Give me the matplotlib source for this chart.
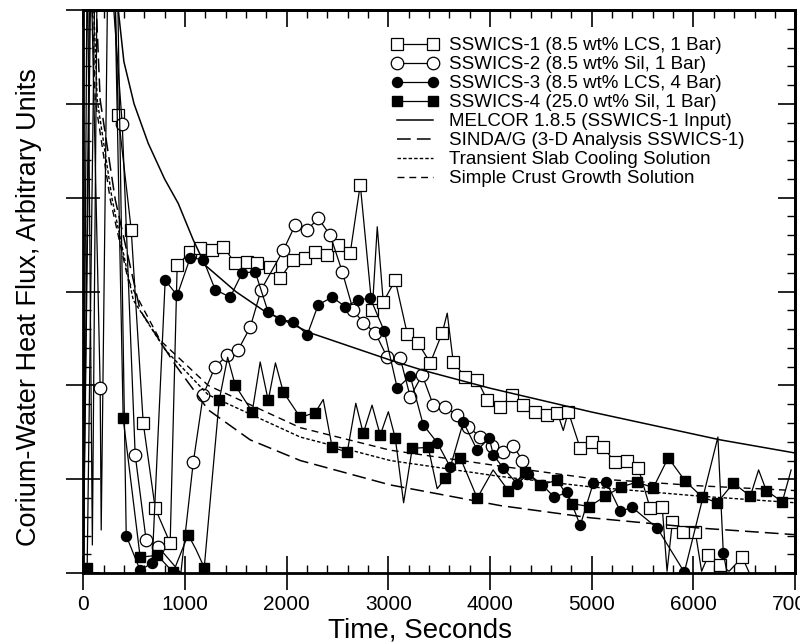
import matplotlib
matplotlib.use('Agg')
import matplotlib.pyplot as plt
from matplotlib.ticker import MultipleLocator, NullFormatter

plt.rcParams['font.family'] = ['Liberation Sans', 'DejaVu Sans']

# ---- measured data (time in s, heat flux in arbitrary units) ---------------
s1_time = [0, 40, 90, 140, 300, 344, 472, 590, 708, 855, 924, 1052, 1150, 1268,
           1377, 1495, 1613, 1711, 1839, 1937, 2065, 2183, 2281, 2399, 2507,
           2625, 2724, 2842, 2891, 2950, 3068, 3186, 3294, 3412, 3530, 3579,
           3638, 3756, 3874, 3973, 4100, 4218, 4327, 4445, 4563, 4661, 4720,
           4769, 4887, 5005, 5113, 5231, 5349, 5457, 5575, 5693, 5740, 5792,
           5900, 6018, 6080, 6146, 6264, 6350, 6480, 6550]
s1_flux = [0.05, 6.8, 0.3, 6.8, 6.8, 4.88, 3.66, 1.60, 0.69, 0.32, 3.28, 3.42,
           3.46, 3.44, 3.48, 3.30, 3.32, 3.30, 3.26, 3.14, 3.34, 3.36, 3.42,
           3.39, 3.50, 3.41, 4.14, 2.80, 3.69, 2.89, 3.12, 2.55, 2.45, 2.24,
           2.56, 2.77, 2.25, 2.09, 2.06, 1.84, 1.77, 1.90, 1.79, 1.72, 1.68,
           1.71, 1.52, 1.72, 1.33, 1.40, 1.34, 1.18, 1.20, 1.12, 0.69, 0.70,
           0.02, 0.54, 0.44, 0.44, 0.02, 0.19, 0.09, 0.02, 0.17, 0.0]
s1_plain = [0, 1, 2, 3, 4, 28, 35, 46, 56, 60, 63, 65]

s2_time = [0, 70, 167, 177, 246, 384, 511, 619, 737, 960, 1082, 1180, 1298,
           1416, 1524, 1642, 1750, 1967, 2085, 2203, 2311, 2429, 2547, 2655,
           2753, 2871, 2989, 3117, 3215, 3333, 3442, 3560, 3678, 3786, 3904,
           4022, 4130, 4228, 4317]
s2_flux = [0.0, 6.8, 1.97, 0.46, 6.8, 4.78, 1.26, 0.35, 0.28, 0.0, 1.18, 1.90,
           2.20, 2.32, 2.38, 2.62, 3.02, 3.44, 3.71, 3.66, 3.78, 3.60, 3.21,
           2.80, 2.67, 2.56, 2.30, 2.29, 1.88, 2.11, 1.79, 1.77, 1.68, 1.56,
           1.45, 1.36, 1.29, 1.36, 1.20]
s2_plain = [0, 1, 3, 4, 9]

s3_time = [0, 80, 330, 423, 560, 678, 806, 924, 1052, 1180, 1298, 1445, 1563,
           1691, 1819, 1937, 2065, 2203, 2311, 2448, 2576, 2704, 2822, 2960,
           3088, 3215, 3343, 3481, 3609, 3737, 3874, 3992, 4032, 4130, 4268,
           4376, 4513, 4631, 4759, 4887, 5015, 5143, 5280, 5398, 5644, 5910,
           6240, 6293, 6330]
s3_flux = [0.0, 6.8, 6.8, 0.40, 0.03, 0.11, 3.12, 2.96, 3.36, 3.34, 3.02, 2.94,
           3.20, 3.21, 2.78, 2.70, 2.68, 2.54, 2.86, 2.94, 2.84, 2.91, 2.93,
           2.58, 1.97, 2.10, 1.58, 1.39, 1.13, 1.61, 1.31, 1.44, 1.26, 1.12,
           0.95, 1.06, 0.94, 0.81, 0.86, 0.51, 0.96, 0.97, 0.66, 0.70, 0.48,
           0.01, 1.45, 0.22, 0.0]
s3_plain = [0, 1, 2, 46, 48]

s4_time = [39, 120, 300, 393, 560, 728, 885, 1032, 1110, 1190, 1337, 1420, 1495,
           1662, 1740, 1819, 1890, 1967, 2134, 2281, 2360, 2448, 2596, 2680,
           2753, 2840, 2920, 3000, 3068, 3150, 3235, 3392, 3480, 3560, 3707,
           3874, 4030, 4179, 4346, 4494, 4661, 4808, 4976, 5133, 5290, 5447,
           5605, 5752, 5919, 6087, 6234, 6392, 6559, 6640, 6716, 6873, 6960]
s4_flux = [0.06, 6.8, 6.8, 1.65, 0.17, 0.19, 0.01, 0.41, 0.25, 0.06, 1.84, 2.30,
           2.00, 1.72, 2.25, 1.84, 2.24, 1.93, 1.66, 1.71, 1.85, 1.34, 1.29,
           1.81, 1.49, 1.79, 1.47, 1.72, 1.44, 0.75, 1.33, 1.34, 0.90, 1.01,
           1.23, 0.80, 1.10, 0.88, 1.08, 0.94, 0.99, 0.74, 0.71, 0.82, 0.92,
           0.97, 0.91, 1.23, 0.98, 0.81, 0.75, 0.96, 0.82, 1.10, 0.88, 0.76,
           1.10]
s4_plain = [1, 2, 8, 11, 14, 16, 20, 23, 25, 27, 29, 32, 36, 53, 56]

# ---- model curves -----------------------------------------------------------
melcor_time = [250, 345, 400, 500, 639, 800, 934, 1082, 1200, 1500, 1770, 2232,
               3019, 3343, 4002, 4985, 6264, 7000]
melcor_flux = [6.8, 6.0, 5.45, 5.0, 4.58, 4.2, 3.94, 3.55, 3.28, 3.0, 2.80,
               2.56, 2.27, 2.16, 1.97, 1.72, 1.42, 1.28]

crust_time = [60, 118, 266, 443, 757, 1229, 2134, 3019, 4100, 4985, 6067, 7000]
crust_flux = [7.0, 5.04, 3.98, 3.12, 2.48, 2.00, 1.55, 1.31, 1.14, 1.01, 0.93,
              0.88]

slab_time = [70, 138, 285, 492, 806, 1229, 2134, 3019, 4100, 4985, 6067, 7000]
slab_flux = [7.0, 5.04, 3.98, 2.91, 2.38, 1.90, 1.45, 1.20, 1.03, 0.92, 0.82,
             0.75]

sinda_time = [90, 167, 315, 560, 905, 1229, 1642, 2134, 3019, 4100, 4985, 6067,
              7000]
sinda_flux = [7.0, 5.04, 3.98, 2.80, 2.22, 1.74, 1.42, 1.20, 0.94, 0.72, 0.59,
              0.48, 0.41]

labels = ['SSWICS-1 (8.5 wt% LCS, 1 Bar)',
          'SSWICS-2 (8.5 wt% Sil, 1 Bar)',
          'SSWICS-3 (8.5 wt% LCS, 4 Bar)',
          'SSWICS-4 (25.0 wt% Sil, 1 Bar)',
          'MELCOR 1.8.5 (SSWICS-1 Input)',
          'SINDA/G (3-D Analysis SSWICS-1)',
          'Transient Slab Cooling Solution',
          'Simple Crust Growth Solution']


def marked(n, plain):
    return [i not in plain for i in range(n)]


fig = plt.figure(figsize=(8, 6.44), dpi=100)
ax = fig.add_axes([0.104, 0.110, 0.890, 0.8745])

lw = 0.9
ax.plot(s1_time, s1_flux, '-', color='k', lw=lw, marker='s', ms=9,
        mfc='white', mec='k', mew=0.9,
        markevery=marked(len(s1_time), s1_plain), label=labels[0])
ax.plot(s2_time, s2_flux, '-', color='k', lw=lw, marker='o', ms=9,
        mfc='white', mec='k', mew=0.9,
        markevery=marked(len(s2_time), s2_plain), label=labels[1])
ax.plot(s3_time, s3_flux, '-', color='k', lw=lw, marker='o', ms=7.2,
        mfc='k', mec='k', markevery=marked(len(s3_time), s3_plain),
        label=labels[2])
ax.plot(s4_time, s4_flux, '-', color='k', lw=lw, marker='s', ms=7.5,
        mfc='k', mec='k', markevery=marked(len(s4_time), s4_plain),
        label=labels[3])
ax.plot(melcor_time, melcor_flux, '-', color='k', lw=1.1, label=labels[4])
ax.plot(sinda_time, sinda_flux, color='k', lw=1.1, dashes=(9, 4),
        label=labels[5])
ax.plot(slab_time, slab_flux, color='k', lw=1.0, dashes=(2.5, 1.5),
        label=labels[6])
ax.plot(crust_time, crust_flux, color='k', lw=1.0, dashes=(5, 3.5),
        label=labels[7])

ax.set_xlim(0, 7000)
ax.set_ylim(0, 6)

for side in ax.spines.values():
    side.set_linewidth(2.0)

ax.xaxis.set_major_locator(MultipleLocator(1000))
ax.xaxis.set_minor_locator(MultipleLocator(200))
ax.yaxis.set_major_locator(MultipleLocator(1))
ax.yaxis.set_minor_locator(MultipleLocator(0.2))
ax.yaxis.set_major_formatter(NullFormatter())
ax.tick_params(which='major', direction='inout', length=24, width=1.2,
               labelsize=15, pad=4)
ax.tick_params(which='minor', direction='in', length=6, width=1.0)

# inward ticks on top and right
top = ax.secondary_xaxis('top')
top.xaxis.set_major_locator(MultipleLocator(1000))
top.xaxis.set_minor_locator(MultipleLocator(200))
top.tick_params(which='major', direction='in', length=12, width=1.2,
                labeltop=False)
top.tick_params(which='minor', direction='in', length=6, width=1.0)
right = ax.secondary_yaxis('right')
right.yaxis.set_major_locator(MultipleLocator(1))
right.yaxis.set_minor_locator(MultipleLocator(0.2))
right.tick_params(which='major', direction='in', length=12, width=1.2,
                  labelright=False)
right.tick_params(which='minor', direction='in', length=6, width=1.0)
for sec in (top, right):
    for side in sec.spines.values():
        side.set_linewidth(2.0)

ax.set_xlabel('Time, Seconds', fontsize=20)
ax.set_ylabel('Corium-Water Heat Flux, Arbitrary Units', fontsize=19.5)
ax.xaxis.set_label_coords(0.473, -0.079)
ax.yaxis.set_label_coords(-0.058, 0.472)

ax.legend(loc='upper left', bbox_to_anchor=(0.433, 0.952), frameon=False,
          fontsize=13.5, numpoints=2, handlelength=2.5, handletextpad=0.55,
          labelspacing=0.1, borderpad=0, borderaxespad=0)

fig.savefig('out.png', dpi=100)
